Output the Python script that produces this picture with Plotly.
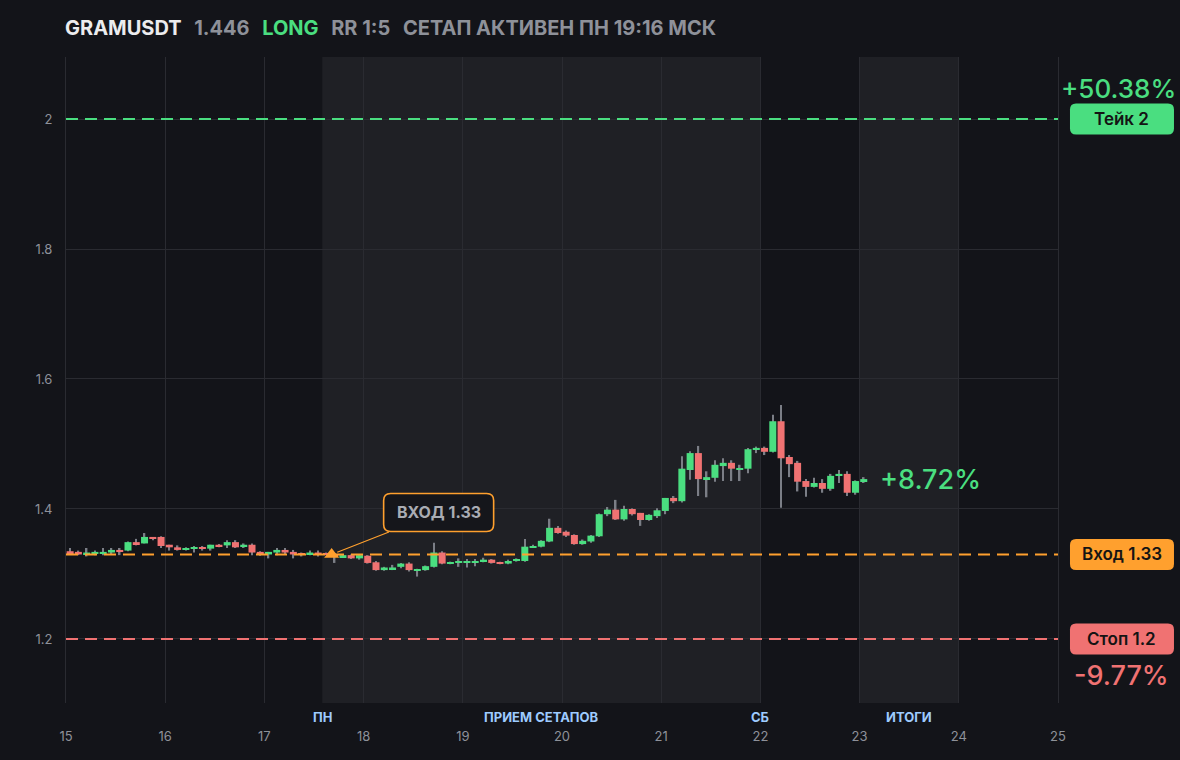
import pandas as pd
import plotly.graph_objects as go

# --- данные сетапа ---
symbol = "GRAMUSDT"
last_price = 1.446
entry_price = 1.33
take_price = 2.0
stop_price = 1.2
setup_time = "2025-03-17 16:16"

# свечи 2ч, начиная с 15-го числа
candle_start = "2025-03-15 00:00"
opens = [1.335, 1.334, 1.330, 1.331, 1.331, 1.333, 1.337, 1.336, 1.349, 1.347,
         1.357, 1.357, 1.345, 1.341, 1.337, 1.339, 1.341, 1.339, 1.345, 1.344,
         1.349, 1.342, 1.345, 1.334, 1.330, 1.333, 1.337, 1.334, 1.332, 1.330,
         1.333, 1.332, 1.330, 1.326, 1.329, 1.324, 1.328, 1.318, 1.306, 1.307,
         1.311, 1.316, 1.305, 1.306, 1.311, 1.333, 1.316, 1.317, 1.317, 1.318,
         1.319, 1.322, 1.318, 1.316, 1.320, 1.320, 1.341, 1.342, 1.350, 1.371,
         1.365, 1.360, 1.346, 1.350, 1.358, 1.392, 1.399, 1.384, 1.400, 1.394,
         1.383, 1.389, 1.397, 1.417, 1.412, 1.460, 1.486, 1.446, 1.448, 1.466,
         1.471, 1.460, 1.462, 1.491, 1.494, 1.488, 1.535, 1.480, 1.471, 1.443,
         1.434, 1.440, 1.431, 1.451, 1.454, 1.425, 1.443]
highs = [1.340, 1.336, 1.340, 1.336, 1.340, 1.340, 1.340, 1.350, 1.354, 1.363,
         1.357, 1.358, 1.345, 1.344, 1.341, 1.343, 1.343, 1.345, 1.346, 1.352,
         1.352, 1.347, 1.347, 1.335, 1.334, 1.340, 1.340, 1.337, 1.333, 1.336,
         1.336, 1.333, 1.332, 1.330, 1.330, 1.330, 1.329, 1.320, 1.311, 1.314,
         1.317, 1.318, 1.308, 1.313, 1.348, 1.335, 1.319, 1.324, 1.323, 1.323,
         1.325, 1.323, 1.319, 1.322, 1.324, 1.354, 1.345, 1.352, 1.385, 1.374,
         1.367, 1.361, 1.353, 1.360, 1.393, 1.403, 1.414, 1.405, 1.401, 1.394,
         1.392, 1.401, 1.417, 1.420, 1.481, 1.489, 1.497, 1.458, 1.475, 1.478,
         1.475, 1.468, 1.494, 1.496, 1.496, 1.545, 1.560, 1.483, 1.474, 1.446,
         1.448, 1.446, 1.454, 1.460, 1.458, 1.444, 1.449]
lows = [1.330, 1.329, 1.327, 1.329, 1.329, 1.330, 1.329, 1.335, 1.344, 1.347,
        1.352, 1.340, 1.336, 1.336, 1.336, 1.333, 1.336, 1.336, 1.341, 1.340,
        1.340, 1.340, 1.329, 1.328, 1.324, 1.329, 1.330, 1.324, 1.327, 1.329,
        1.327, 1.329, 1.317, 1.325, 1.323, 1.322, 1.316, 1.305, 1.305, 1.306,
        1.309, 1.304, 1.296, 1.305, 1.310, 1.315, 1.315, 1.311, 1.310, 1.312,
        1.318, 1.316, 1.315, 1.315, 1.319, 1.319, 1.340, 1.341, 1.349, 1.362,
        1.357, 1.345, 1.345, 1.348, 1.357, 1.389, 1.383, 1.382, 1.390, 1.374,
        1.382, 1.386, 1.392, 1.409, 1.410, 1.445, 1.420, 1.418, 1.442, 1.443,
        1.443, 1.443, 1.455, 1.486, 1.483, 1.487, 1.402, 1.449, 1.427, 1.419,
        1.433, 1.425, 1.428, 1.440, 1.420, 1.422, 1.440]
closes = [1.332, 1.330, 1.333, 1.334, 1.334, 1.337, 1.334, 1.349, 1.346, 1.357,
          1.354, 1.343, 1.341, 1.337, 1.340, 1.341, 1.339, 1.345, 1.342, 1.349,
          1.341, 1.345, 1.333, 1.331, 1.334, 1.337, 1.333, 1.330, 1.330, 1.333,
          1.330, 1.330, 1.327, 1.329, 1.324, 1.329, 1.317, 1.306, 1.310, 1.310,
          1.316, 1.306, 1.307, 1.312, 1.333, 1.316, 1.318, 1.320, 1.320, 1.320,
          1.322, 1.317, 1.316, 1.320, 1.322, 1.342, 1.343, 1.351, 1.371, 1.363,
          1.359, 1.346, 1.351, 1.359, 1.392, 1.399, 1.384, 1.400, 1.392, 1.383,
          1.391, 1.398, 1.417, 1.412, 1.462, 1.486, 1.446, 1.449, 1.468, 1.471,
          1.462, 1.463, 1.492, 1.494, 1.488, 1.535, 1.478, 1.469, 1.442, 1.434,
          1.440, 1.431, 1.451, 1.454, 1.425, 1.443, 1.446]

# зоны недели
zone_names = ["ПН", "ПРИЕМ СЕТАПОВ", "СБ", "ИТОГИ"]
zone_label_x = ["2025-03-17 14:00", "2025-03-19 19:00", "2025-03-22 00:00", "2025-03-23 12:00"]
shaded_from = ["2025-03-17 14:00", "2025-03-23 00:00"]
shaded_to = ["2025-03-22 00:00", "2025-03-24 00:00"]

# --- цвета ---
BG = "#131419"
SHADE = "#1f2025"
GRID = "#2a2b31"
GREEN = "#4ade80"
RED = "#f07272"
ORANGE = "#ffa02e"
WICK = "#7b7e86"
GREY = "#8e9199"
BLUE = "#9ecbff"
FONT = "Inter"


def rounded_box(w, h, r, cx=0, cy=0):
    # путь скруглённого прямоугольника в пикселях относительно якоря
    x0, x1, y0, y1 = cx - w / 2, cx + w / 2, cy - h / 2, cy + h / 2
    return (f"M{x0 + r},{y0} L{x1 - r},{y0} Q{x1},{y0} {x1},{y0 + r} "
            f"L{x1},{y1 - r} Q{x1},{y1} {x1 - r},{y1} L{x0 + r},{y1} "
            f"Q{x0},{y1} {x0},{y1 - r} L{x0},{y0 + r} Q{x0},{y0} {x0 + r},{y0} Z")


times = pd.date_range(candle_start, periods=len(opens), freq="2h") + pd.Timedelta(hours=1)
body_base = [min(o, c) for o, c in zip(opens, closes)]
body_h = [abs(c - o) for o, c in zip(opens, closes)]
body_col = [GREEN if c >= o else RED for o, c in zip(opens, closes)]

fig = go.Figure()

# тени
fig.add_trace(go.Bar(
    x=times, y=[h - l for h, l in zip(highs, lows)], base=lows,
    width=1.3e6, marker=dict(color=WICK, line=dict(width=0)), hoverinfo="skip"
))
# тела свечей
fig.add_trace(go.Bar(
    x=times, y=body_h, base=body_base,
    width=6.1e6, marker=dict(color=body_col, line=dict(width=0)), hoverinfo="skip"
))
# точка входа
fig.add_trace(go.Scatter(
    x=[setup_time], y=[entry_price], mode="markers",
    marker=dict(symbol="triangle-up", size=13, color=ORANGE), hoverinfo="skip"
))

# затемнённые зоны
for x0, x1 in zip(shaded_from, shaded_to):
    fig.add_shape(type="rect", xref="x", yref="paper", x0=x0, x1=x1, y0=0, y1=1,
                  fillcolor=SHADE, line=dict(width=0), layer="below")

# уровни
for price, col in [(take_price, GREEN), (entry_price, ORANGE), (stop_price, RED)]:
    fig.add_shape(type="line", xref="paper", yref="y", x0=0, x1=1, y0=price, y1=price,
                  line=dict(color=col, width=2, dash="12px,7px"))

# подписи уровней справа
LABEL_X = 1.0645


def level_box(text, price, col):
    fig.add_shape(type="path", xref="paper", yref="y", xsizemode="pixel", ysizemode="pixel",
                  xanchor=LABEL_X, yanchor=price, path=rounded_box(104, 31, 6),
                  fillcolor=col, line=dict(width=0))
    fig.add_annotation(xref="paper", yref="y", x=LABEL_X, y=price, text=text,
                       xanchor="center", yanchor="middle", showarrow=False,
                       font=dict(family=FONT, size=17, color="#141414", weight=600))


level_box("Тейк 2", take_price, GREEN)
level_box(f"Вход {entry_price:g}", entry_price, ORANGE)
level_box(f"Стоп {stop_price:g}", stop_price, RED)

fig.add_annotation(xref="paper", yref="y", x=LABEL_X, y=take_price, yshift=31, xshift=-3,
                   xanchor="center", yanchor="middle",
                   text=f"{(take_price / entry_price - 1) * 100:+.2f}%", showarrow=False,
                   font=dict(family=FONT, size=26, color=GREEN, weight=500))
fig.add_annotation(xref="paper", yref="y", x=LABEL_X, y=stop_price, yshift=-37,
                   xanchor="center", yanchor="middle",
                   text=f"{(stop_price / entry_price - 1) * 100:+.2f}%", showarrow=False,
                   font=dict(family=FONT, size=27, color=RED, weight=500))
fig.add_annotation(x=times[-1], y=closes[-1], xanchor="left", yanchor="middle", xshift=14,
                   text=f"{(closes[-1] / entry_price - 1) * 100:+.2f}%", showarrow=False,
                   font=dict(family=FONT, size=27, color=GREEN, weight=500))

# выноска входа
CALL_DX, CALL_DY = 107, 42
fig.add_shape(type="path", xref="x", yref="y", xsizemode="pixel", ysizemode="pixel",
              xanchor=setup_time, yanchor=entry_price,
              path=rounded_box(110, 38, 7, CALL_DX, CALL_DY),
              fillcolor="#15161b", line=dict(color=ORANGE, width=1.6))
fig.add_annotation(x=setup_time, y=entry_price, ax=CALL_DX, ay=-CALL_DY,
                   text=f"<b>ВХОД {entry_price:g}</b>", showarrow=True, arrowhead=0,
                   arrowcolor=ORANGE, arrowwidth=1.2, standoff=6,
                   width=106, height=34, borderpad=2,
                   font=dict(family=FONT, size=16, color="#a9acb3"))

# зоны недели под осью
for name, xpos in zip(zone_names, zone_label_x):
    fig.add_annotation(x=xpos, yref="paper", y=-0.022, yanchor="middle",
                       text=f"<b>{name}</b>", showarrow=False,
                       font=dict(family=FONT, size=13, color=BLUE))

# заголовок
sp = "&nbsp;&nbsp;&#8201;"
header = (f"<b><span style='color:#ececee'>{symbol}</span>{sp}"
          f"<span style='color:{GREY}'>{last_price}</span>{sp}"
          f"<span style='color:{GREEN}'>LONG</span>{sp}"
          f"<span style='color:{GREY}'>RR 1:5</span>{sp}"
          f"<span style='color:{GREY}'>СЕТАП АКТИВЕН ПН 19:16 МСК</span></b>")
fig.add_annotation(xref="paper", yref="paper", x=0, y=1.045, xanchor="left", xshift=-3,
                   yanchor="middle", text=header, showarrow=False,
                   font=dict(family=FONT, size=20))

fig.update_layout(
    width=1180, height=760,
    margin=dict(l=66, r=122, t=57, b=57),
    paper_bgcolor=BG, plot_bgcolor=BG,
    barmode="overlay", showlegend=False,
    font=dict(family=FONT, color=GREY),
    xaxis=dict(type="date", range=["2025-03-15", "2025-03-25"], dtick=86400000,
               tick0="2025-03-15", tickformat="%-d", showgrid=True, gridcolor=GRID,
               zeroline=False, showline=False, ticklabelstandoff=24,
               tickfont=dict(size=13, color=GREY)),
    yaxis=dict(range=[1.1015, 2.0954], dtick=0.2, tick0=0, showgrid=True, gridcolor=GRID,
               zeroline=False, showline=True, linecolor=GRID, linewidth=1, mirror=True,
               ticklabelstandoff=10, tickfont=dict(size=13, color=GREY)),
)

fig.write_html("out.html", config={"displayModeBar": False},
               post_script="document.body.style.margin='0';"
                           "document.body.style.background='#131419';")
